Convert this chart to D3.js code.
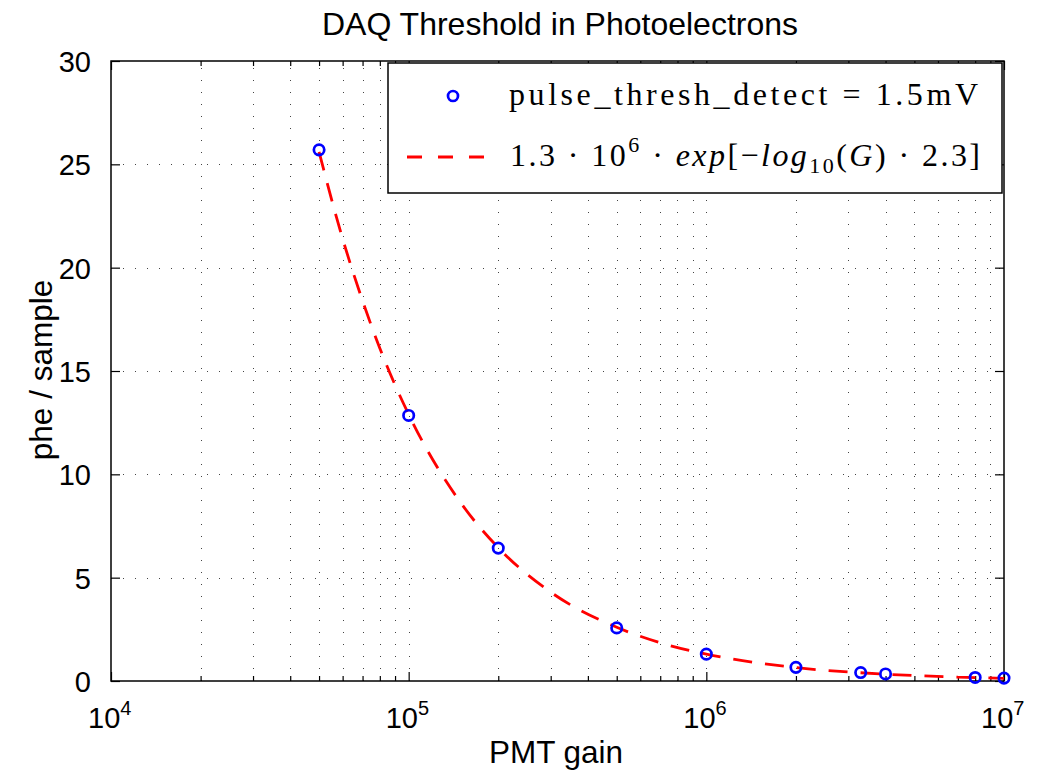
<!DOCTYPE html>
<html>
<head>
<meta charset="utf-8">
<script src="https://cdn.jsdelivr.net/npm/d3@7"></script>
<style>
  body { margin: 0; background: #fff; }
  text { font-family: "Liberation Sans", Arial, Helvetica, sans-serif; }
</style>
</head>
<body>
<div id="chart"></div>
<script>
// measured points (PMT gain vs phe / sample)
var gains = [5e4, 1e5, 2e5, 5e5, 1e6, 2e6, 3.3e6, 4e6, 8e6, 1e7];
var phe = [25.7, 12.85, 6.43, 2.57, 1.3, 0.66, 0.41, 0.34, 0.17, 0.14];

// fit curve
var fitGains = [5e4, 6e4, 7e4, 8e4, 1e5, 1.5e5, 2e5, 3e5, 5e5, 7e5, 1e6, 2e6, 4e6, 7e6, 1e7];
var fitPhe = [25.6, 21.4, 18.4, 16.1, 12.9, 8.6, 6.45, 4.3, 2.6, 1.85, 1.3, 0.65, 0.33, 0.19, 0.13];

var xMajor = [1e4, 1e5, 1e6, 1e7];
var yMajor = [0, 5, 10, 15, 20, 25, 30];

var W = 1053, H = 773;
var margin = { top: 61, right: 49, bottom: 92, left: 111 };
var width = W - margin.left - margin.right,
    height = H - margin.top - margin.bottom;

var svg = d3.select("#chart").append("svg")
    .attr("width", W)
    .attr("height", H);

var g = svg.append("g")
    .attr("transform", "translate(" + margin.left + "," + margin.top + ")");

var x = d3.scaleLog().domain([1e4, 1e7]).range([0, width]);
var y = d3.scaleLinear().domain([0, 30]).range([height, 0]);

var xMinor = x.ticks().filter(function(d) { return xMajor.indexOf(d) < 0; });

// dotted grid
var grid = g.append("g")
    .attr("stroke", "#444")
    .attr("stroke-width", 1)
    .attr("stroke-dasharray", "1,11");
grid.selectAll(".vg")
    .data(x.ticks().filter(function(d) { return d > 1e4 && d < 1e7; }))
    .enter().append("line")
    .attr("x1", function(d) { return Math.round(x(d)) + 0.5; })
    .attr("x2", function(d) { return Math.round(x(d)) + 0.5; })
    .attr("y1", height).attr("y2", 0);
grid.selectAll(".hg")
    .data(yMajor.filter(function(d) { return d > 0 && d < 30; }))
    .enter().append("line")
    .attr("x1", 0).attr("x2", width)
    .attr("y1", function(d) { return Math.round(y(d)) + 0.5; })
    .attr("y2", function(d) { return Math.round(y(d)) + 0.5; });

// axes (ticks pointing inwards, mirrored on top / right)
function styleAxis(sel) {
  sel.select(".domain").remove();
  sel.selectAll(".tick line").attr("stroke", "#000").attr("stroke-width", 1.2);
}
g.append("g").attr("transform", "translate(0," + height + ")")
    .call(d3.axisBottom(x).tickValues(xMinor).tickSize(-5).tickFormat(""))
    .call(styleAxis);
g.append("g")
    .call(d3.axisTop(x).tickValues(xMinor).tickSize(-5).tickFormat(""))
    .call(styleAxis);
g.append("g").attr("transform", "translate(0," + height + ")")
    .call(d3.axisBottom(x).tickValues(xMajor).tickSize(-9).tickFormat(""))
    .call(styleAxis);
g.append("g")
    .call(d3.axisTop(x).tickValues(xMajor).tickSize(-9).tickFormat(""))
    .call(styleAxis);

var yAxis = g.append("g")
    .call(d3.axisLeft(y).tickValues(yMajor).tickSize(-9).tickPadding(20))
    .call(styleAxis);
yAxis.selectAll("text")
    .attr("font-size", 29)
    .attr("dy", "0.36em")
    .attr("fill", "#000")
    .style("font-family", "'Liberation Sans', Arial, sans-serif");
g.append("g").attr("transform", "translate(" + width + ",0)")
    .call(d3.axisRight(y).tickValues(yMajor).tickSize(-9).tickFormat(""))
    .call(styleAxis);

// x tick labels as 10^n
var xl = g.append("g").selectAll(".xl")
    .data(xMajor)
    .enter().append("text")
    .attr("x", function(d) { return x(d) - 23; })
    .attr("y", height + 47)
    .attr("font-size", 29);
xl.append("tspan").text("10");
xl.append("tspan")
    .attr("font-size", 20)
    .attr("dy", -13)
    .text(function(d) { return Math.round(Math.log10(d)); });

// frame
g.append("rect")
    .attr("width", width).attr("height", height)
    .attr("fill", "none").attr("stroke", "#000").attr("stroke-width", 1.5);

// fit curve
var line = d3.line()
    .x(function(d, i) { return x(fitGains[i]); })
    .y(function(d) { return y(d); })
    .curve(d3.curveMonotoneX);
g.append("path")
    .datum(fitPhe)
    .attr("d", line)
    .attr("fill", "none")
    .attr("stroke", "#ff0000")
    .attr("stroke-width", 2.8)
    .attr("stroke-dasharray", "19,13");

// measured points
g.selectAll(".pt")
    .data(phe)
    .enter().append("circle")
    .attr("cx", function(d, i) { return x(gains[i]); })
    .attr("cy", function(d) { return y(d); })
    .attr("r", 5.2)
    .attr("fill", "none")
    .attr("stroke", "#0000ff")
    .attr("stroke-width", 2.7);

// legend
var leg = svg.append("g").attr("transform", "translate(388,63)");
leg.append("rect")
    .attr("width", 614).attr("height", 130)
    .attr("fill", "#fff").attr("stroke", "#000").attr("stroke-width", 1.5);
leg.append("circle")
    .attr("cx", 65).attr("cy", 33).attr("r", 5)
    .attr("fill", "none").attr("stroke", "#0000ff").attr("stroke-width", 2.7);
leg.append("line")
    .attr("x1", 19).attr("x2", 100).attr("y1", 94).attr("y2", 94)
    .attr("stroke", "#ff0000").attr("stroke-width", 2.8)
    .attr("stroke-dasharray", "15,16");

var serif = "'Liberation Serif', 'DejaVu Serif', serif";
leg.append("text")
    .attr("x", 121).attr("y", 42)
    .attr("font-size", 32)
    .attr("textLength", 469).attr("lengthAdjust", "spacing")
    .style("font-family", serif)
    .text("pulse_thresh_detect = 1.5mV");

var t2 = leg.append("text")
    .attr("x", 122).attr("y", 103)
    .attr("font-size", 32)
    .attr("textLength", 470).attr("lengthAdjust", "spacing")
    .style("font-family", serif);
t2.append("tspan").text("1.3 \u00b7 10");
t2.append("tspan").attr("font-size", 22).attr("dy", -14).text("6");
t2.append("tspan").attr("dy", 14).text(" \u00b7 ");
t2.append("tspan").attr("font-style", "italic").text("exp");
t2.append("tspan").text("[\u2212");
t2.append("tspan").attr("font-style", "italic").text("log");
t2.append("tspan").attr("font-size", 22).attr("dy", 7).text("10");
t2.append("tspan").attr("dy", -7).text("(");
t2.append("tspan").attr("font-style", "italic").text("G");
t2.append("tspan").text(") \u00b7 2.3]");

// titles
svg.append("text")
    .attr("x", 560).attr("y", 35)
    .attr("text-anchor", "middle")
    .attr("font-size", 32)
    .text("DAQ Threshold in Photoelectrons");
svg.append("text")
    .attr("x", 556).attr("y", 763)
    .attr("text-anchor", "middle")
    .attr("font-size", 31.5)
    .text("PMT gain");
svg.append("text")
    .attr("transform", "translate(52,370) rotate(-90)")
    .attr("text-anchor", "middle")
    .attr("font-size", 31.5)
    .text("phe / sample");
</script>
</body>
</html>
